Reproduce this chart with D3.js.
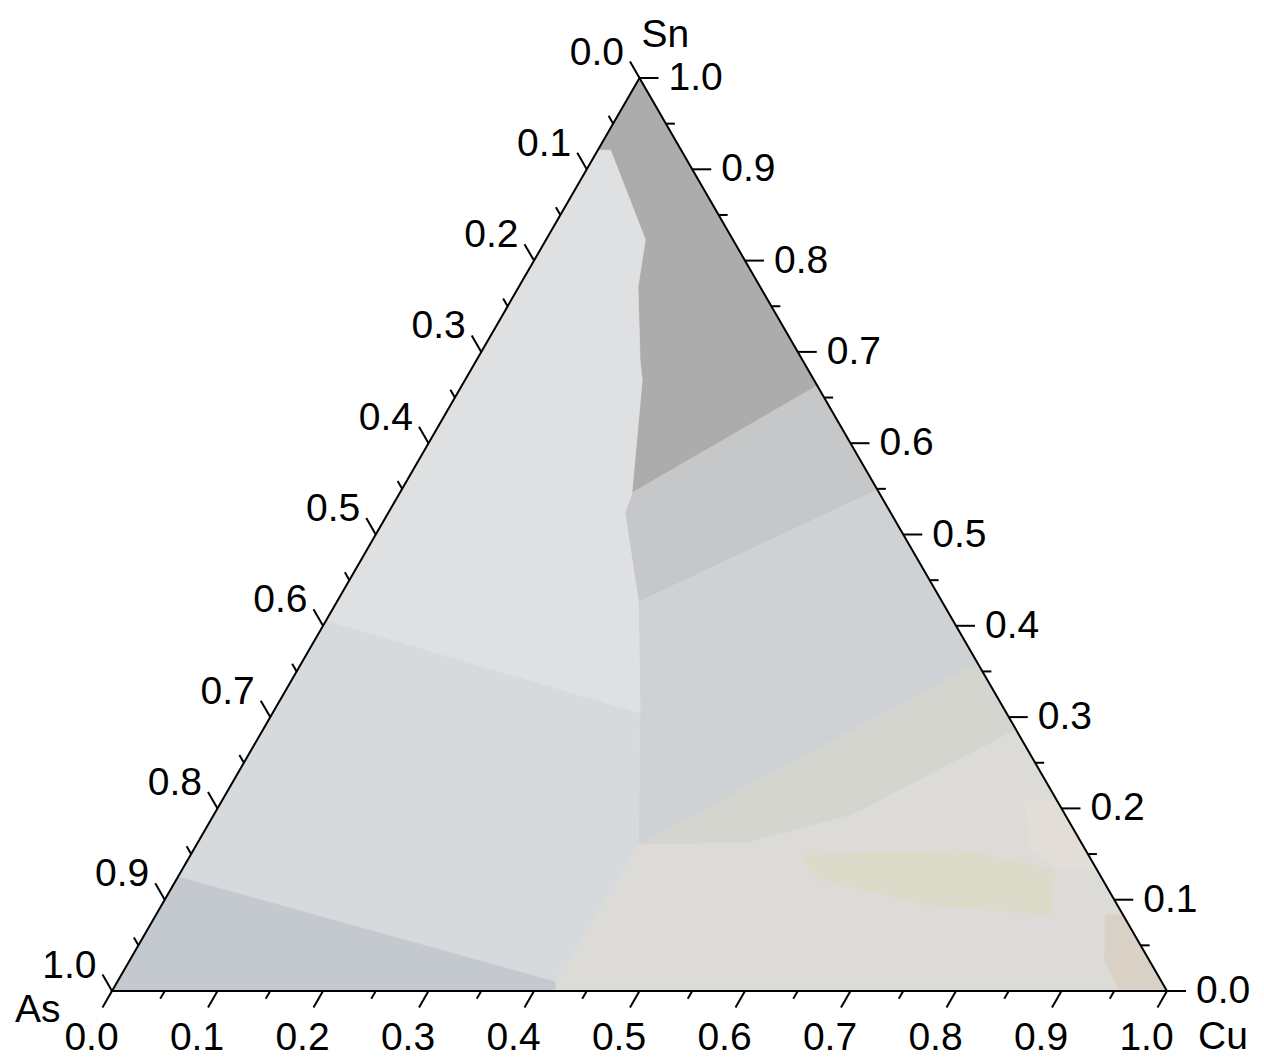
<!DOCTYPE html>
<html><head><meta charset="utf-8">
<script src="https://cdn.jsdelivr.net/npm/d3@7"></script>
<style>html,body{margin:0;padding:0;background:#fff;} svg{display:block;font-family:"Liberation Sans",Arial,sans-serif;}</style>
</head><body><svg id="chart" width="1264" height="1061"></svg>
<script>
// ---------------- DATA ----------------
const axisNames = ["As", "Cu", "Sn"];
const majorTickValues = [0, 0.1, 0.2, 0.3, 0.4, 0.5, 0.6, 0.7, 0.8, 0.9, 1.0];
const minorTickValues = [0.05, 0.15, 0.25, 0.35, 0.45, 0.55, 0.65, 0.75, 0.85, 0.95];
const tickLabels = ["0.0", "0.1", "0.2", "0.3", "0.4", "0.5", "0.6", "0.7", "0.8", "0.9", "1.0"];

// Region polygons, each vertex as [As, Cu, Sn] fraction
const regionSnRich = [[0,0,1],[0.079,0,0.921],[0.067,0.012,0.921],[0.083,0.094,0.823],[0.116,0.113,0.771],[0.154,0.155,0.691],[0.163,0.168,0.669],[0.2345,0.22,0.5455],[0,0.337,0.663]];
const regionUpperMid = [[0.2345,0.22,0.5455],[0,0.337,0.663],[0,0.451,0.549],[0.288,0.286,0.426],[0.252,0.2245,0.5235]];
const regionMid = [[0.288,0.286,0.426],[0,0.451,0.549],[0,0.641,0.359],[0.421,0.419,0.160],[0.347,0.348,0.3045]];
const regionBand = [[0.421,0.419,0.160],[0,0.641,0.359],[0,0.714,0.286],[0.201,0.606,0.193],[0.317,0.521,0.162]];
const regionCuRich = [[0.575,0.415,0.010],[0.421,0.419,0.160],[0.317,0.521,0.162],[0.201,0.606,0.193],[0,0.714,0.286],[0,1,0],[0.58,0.42,0]];
const regionLowerLeft = [[0.594,0,0.406],[0.347,0.348,0.3045],[0.421,0.419,0.160],[0.575,0.415,0.010],[0.875,0,0.125]];
const regionUpperLeft = [[0.079,0,0.921],[0.067,0.012,0.921],[0.083,0.094,0.823],[0.116,0.113,0.771],[0.154,0.155,0.691],[0.163,0.168,0.669],[0.2345,0.22,0.5455],[0.252,0.2245,0.5235],[0.288,0.286,0.426],[0.347,0.348,0.3045],[0.594,0,0.406]];
const regionAsRich = [[1,0,0],[0.875,0,0.125],[0.575,0.415,0.010],[0.58,0.42,0]];
const grainYellow = [[0.273,0.578,0.149],[0.119,0.7266,0.1544],[0.040,0.8276,0.1325],[0.069,0.8475,0.0832],[0.178,0.728,0.0942],[0.268,0.610,0.1216]];
const grainPale = [[0.030,0.761,0.2092],[0,0.7908,0.2092],[0,0.8675,0.1325],[0.035,0.832,0.1325],[0.053,0.793,0.1544]];
const grainTan = [[0.017,0.900,0.0832],[0,0.9168,0.0832],[0,1,0],[0.045,0.955,0],[0.042,0.924,0.034]];

const regions = [
  {name: "SnRich", pts: regionSnRich},
  {name: "UpperMid", pts: regionUpperMid},
  {name: "Mid", pts: regionMid},
  {name: "Band", pts: regionBand},
  {name: "CuRich", pts: regionCuRich},
  {name: "LowerLeft", pts: regionLowerLeft},
  {name: "UpperLeft", pts: regionUpperLeft},
  {name: "AsRich", pts: regionAsRich},
  {name: "Yellow", pts: grainYellow},
  {name: "Pale", pts: grainPale},
  {name: "Tan", pts: grainTan}
];

// ---------------- STYLE ----------------
const regionColor = {
  SnRich: "#acacac", UpperMid: "#c6c7c8", Mid: "#cfd2d5", Band: "#d5d5cf",
  CuRich: "#dcdbd7", LowerLeft: "#d7dadd", UpperLeft: "#dee0e1", AsRich: "#c4c9cf",
  Yellow: "#dcdbca", Pale: "#e2ddd7", Tan: "#d9d0c6"
};
const FS = 39;
const MAJOR = 19, MINOR = 9;

// ---------------- SCALES ----------------
const svg = d3.select("#chart");
const xScale = d3.scaleLinear().domain([0, 1]).range([112, 1167]);
const yScale = d3.scaleLinear().domain([0, 1]).range([991, 78]);
function proj(p) {
  const s = p[0] + p[1] + p[2];
  const cu = p[1] / s, sn = p[2] / s;
  return [xScale(cu + sn / 2), yScale(sn)];
}
const line = d3.line().curve(d3.curveLinearClosed);

// regions
svg.append("g").selectAll("path").data(regions).join("path")
  .attr("d", d => line(d.pts.map(proj)))
  .attr("fill", d => regionColor[d.name])
  .attr("stroke", d => regionColor[d.name])
  .attr("stroke-width", 0.8);

// triangle frame
const A = proj([1,0,0]), C = proj([0,1,0]), S = proj([0,0,1]);
svg.append("path").attr("d", line([A, C, S])).attr("fill", "none")
  .attr("stroke", "#000").attr("stroke-width", 2).attr("stroke-linejoin", "miter");

// axes definitions
const sin60 = Math.sqrt(3) / 2;
const axes = [
  {name: "As", pt: v => [v, 0, 1 - v], dir: [-0.5, -sin60]},
  {name: "Cu", pt: v => [1 - v, v, 0], dir: [-0.5, sin60]},
  {name: "Sn", pt: v => [0, 1 - v, v], dir: [1, 0]}
];
const gT = svg.append("g").attr("stroke", "#000").attr("stroke-width", 2);
axes.forEach(ax => {
  const all = majorTickValues.map(v => ({v, len: MAJOR})).concat(minorTickValues.map(v => ({v, len: MINOR})));
  gT.selectAll(null).data(all).join("line")
    .attr("x1", d => proj(ax.pt(d.v))[0])
    .attr("y1", d => proj(ax.pt(d.v))[1])
    .attr("x2", d => proj(ax.pt(d.v))[0] + ax.dir[0] * d.len)
    .attr("y2", d => proj(ax.pt(d.v))[1] + ax.dir[1] * d.len);
});

// labels
const gL = svg.append("g").attr("font-size", FS).attr("fill", "#000");
function tickEnd(ax, v) {
  const p = proj(ax.pt(v));
  return [p[0] + ax.dir[0] * MAJOR, p[1] + ax.dir[1] * MAJOR];
}
// As (left)
gL.selectAll(null).data(majorTickValues).join("text")
  .attr("x", v => tickEnd(axes[0], v)[0] - 6)
  .attr("y", v => tickEnd(axes[0], v)[1] + 3)
  .attr("text-anchor", "end")
  .text((v, i) => tickLabels[i]);
// Cu (bottom)
gL.selectAll(null).data(majorTickValues).join("text")
  .attr("x", v => tickEnd(axes[1], v)[0] - 11)
  .attr("y", v => tickEnd(axes[1], v)[1] + 43)
  .attr("text-anchor", "middle")
  .text((v, i) => tickLabels[i]);
// Sn (right)
gL.selectAll(null).data(majorTickValues).join("text")
  .attr("x", v => tickEnd(axes[2], v)[0] + 10)
  .attr("y", v => tickEnd(axes[2], v)[1] + 12)
  .attr("text-anchor", "start")
  .text((v, i) => tickLabels[i]);

// axis titles
gL.append("text").attr("x", S[0] + 2).attr("y", S[1] - 31).text(axisNames[2]);
gL.append("text").attr("x", A[0] - 97).attr("y", A[1] + 31).text(axisNames[0]);
gL.append("text").attr("x", C[0] + 31).attr("y", C[1] + 58).text(axisNames[1]);
</script></body></html>
